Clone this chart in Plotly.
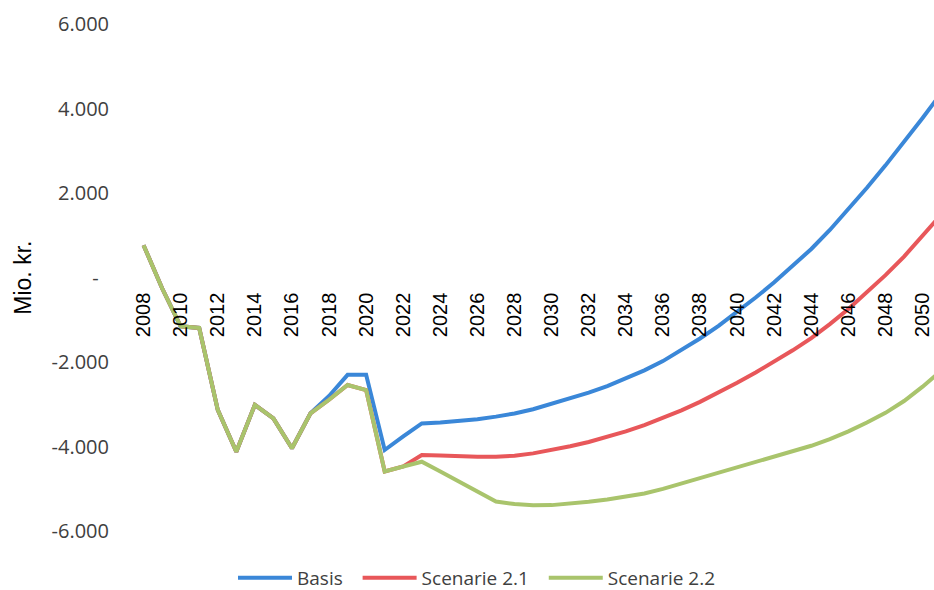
import plotly.graph_objects as go

# Years on the category axis (2051 keeps the curves running to the right edge)
years = list(range(2008, 2052))

# Annual result, mio. kr.
basis = [770, -250, -1150, -1190, -3130, -4120, -3010, -3330, -4040, -3210,
         -2800, -2300, -2300, -4080, -3760, -3450,
         -3430, -3395, -3350, -3290, -3215, -3115, -2990,
         -2860, -2720, -2565, -2390, -2195, -1975, -1720, -1440, -1140, -815,
         -470, -110, 270, 680, 1130, 1620, 2130, 2660, 3210, 3780, 4370]

scenarie_21 = [770, -250, -1150, -1190, -3130, -4120, -3010, -3330, -4040, -3210,
               -2890, -2540, -2660, -4590, -4470, -4200,
               -4210, -4230, -4240, -4240, -4215, -4160, -4080,
               -3990, -3890, -3775, -3640, -3490, -3325, -3140, -2940, -2720, -2490,
               -2245, -1990, -1720, -1430, -1100, -740, -350, 60, 500, 980, 1490]

scenarie_22 = [770, -250, -1150, -1190, -3130, -4120, -3010, -3330, -4040, -3210,
               -2890, -2540, -2660, -4590, -4470, -4357,
               -4590, -4830, -5070, -5300, -5360, -5390, -5385,
               -5355, -5305, -5250, -5190, -5110, -5000, -4875, -4750, -4625, -4500,
               -4370, -4250, -4120, -3980, -3820, -3640, -3430, -3200, -2920, -2580, -2200]

series_names = ["Basis", "Scenarie 2.1", "Scenarie 2.2"]
series_colors = ["#3a87d8", "#e8575a", "#a9c46c"]

x_tick_years = list(range(2008, 2051, 2))
x_tick_text = [str(y) for y in x_tick_years]

y_tick_vals = [-6000, -4000, -2000, 0, 2000, 4000, 6000]
y_tick_text = ["-6.000", "-4.000", "-2.000", "-\u00a0\u00a0", "2.000", "4.000", "6.000"]

Y_MIN, Y_MAX = -6211, 6102
X_MIN, X_MAX = 2006.46, 2050.615

# extra space after the first two legend labels
legend_pad = ["\u00a0\u00a0", "\u00a0\u00a0", ""]

fig = go.Figure()
for name, pad, values, color in zip(series_names, legend_pad,
                                    [basis, scenarie_21, scenarie_22], series_colors):
    fig.add_trace(go.Scatter(
        x=years, y=values, name=name + pad, mode="lines",
        line=dict(color=color, width=4),
    ))

zero_pos = (0 - Y_MIN) / (Y_MAX - Y_MIN)

fig.update_layout(
    width=934, height=590,
    margin=dict(l=115, r=0, t=20, b=50, autoexpand=False),
    paper_bgcolor="white", plot_bgcolor="white",
    showlegend=True,
    legend=dict(
        orientation="h",
        xref="container", x=477 / 934, xanchor="center",
        yref="container", y=(590 - 578) / 590, yanchor="middle",
        itemwidth=54,
        font=dict(family="Open Sans", size=19, color="#404040"),
        bgcolor="rgba(0,0,0,0)",
    ),
    xaxis=dict(
        range=[X_MIN, X_MAX],
        anchor="free", position=zero_pos,
        tickvals=x_tick_years, ticktext=x_tick_text,
        tickangle=-90,
        tickfont=dict(family="Liberation Sans", size=20, color="black"),
        showgrid=False, zeroline=False, showline=False, ticks="",
        ticklabelstandoff=10,
    ),
    yaxis=dict(
        range=[Y_MIN, Y_MAX],
        tickvals=y_tick_vals, ticktext=y_tick_text,
        tickfont=dict(family="Open Sans", size=20, color="#404040"),
        showgrid=False, zeroline=False, showline=False, ticks="",
        ticklabelstandoff=5,
    ),
    annotations=[dict(
        text="Mio. kr.", xref="paper", yref="y",
        x=(23 - 115) / 819, y=0,
        xanchor="center", yanchor="middle", textangle=-90, showarrow=False,
        font=dict(family="Liberation Sans", size=23, color="black"),
    )],
)

fig.write_html("out.html")
